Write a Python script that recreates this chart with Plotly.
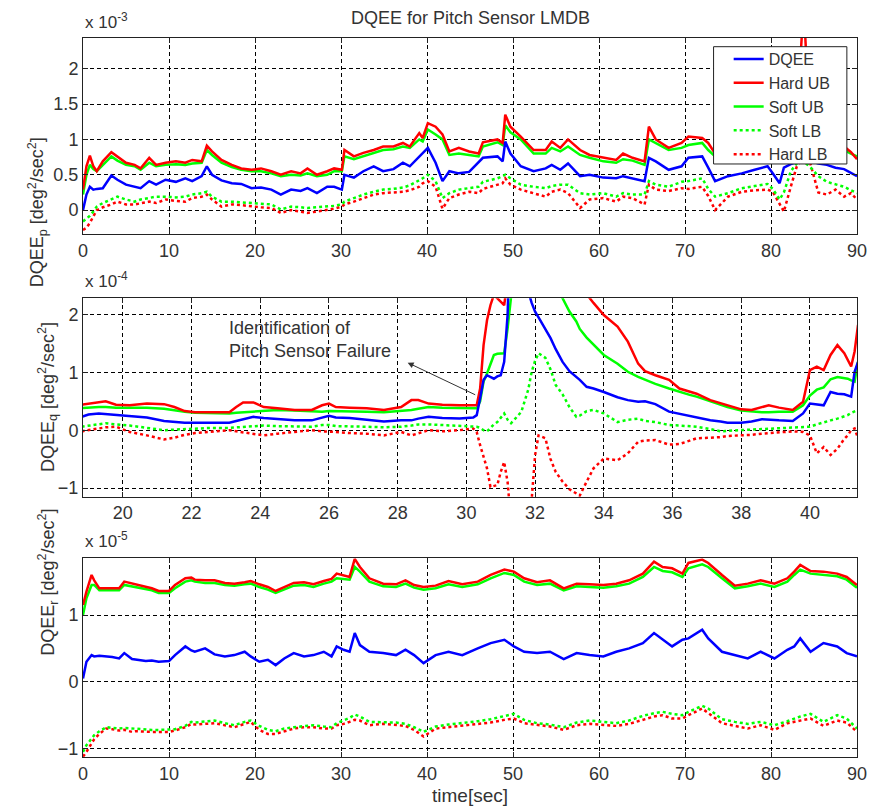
import plotly.graph_objects as go

# ---------------- Top panel: DQEE_p  (values in units of 1e-3 deg^2/sec^2) ----------------
T_P = [0, 0.4, 0.8, 1.2, 1.6, 2.3, 3.3, 4.0, 5.0, 6.0, 6.7, 7.7, 8.5, 9.6, 10.8,
       11.9, 12.7, 13.8, 14.4, 15.0, 16.1, 17.3, 18.4, 19.6, 20.7, 21.9, 23.0, 24.2, 25.3, 26.1,
       27.2, 28.4, 29.2, 30.1, 30.4, 31.5, 32.6, 33.8, 34.9, 36.1, 37.2, 38.0, 39.1, 39.5, 40.1,
       41.0, 41.8, 42.6, 43.7, 44.9, 46.0, 46.5, 48.2, 48.8, 49.1, 49.7, 50.9, 52.4, 53.8, 54.5,
       55.5, 56.4, 57.8, 58.9, 60.5, 62.0, 62.8, 63.9, 65.3, 65.8, 66.6, 68.1, 69.6, 70.4, 72.0,
       72.7, 73.5, 75.0, 76.6, 78.1, 79.6, 80.2, 81.0, 81.5, 82.3, 83.0, 83.8, 84.5, 85.5, 86.5,
       87.5, 88.5, 89.3, 90.0]
P_DQEE = [0.0, 0.22, 0.33, 0.29, 0.30, 0.31, 0.49, 0.43, 0.36, 0.33, 0.31, 0.41, 0.36, 0.43, 0.40,
          0.45, 0.41, 0.48, 0.62, 0.50, 0.42, 0.38, 0.37, 0.31, 0.32, 0.29, 0.22, 0.29, 0.27, 0.31,
          0.24, 0.33, 0.33, 0.29, 0.50, 0.46, 0.55, 0.62, 0.55, 0.58, 0.67, 0.62, 0.76, 0.80, 0.88,
          0.67, 0.41, 0.55, 0.52, 0.54, 0.67, 0.74, 0.76, 0.69, 0.97, 0.80, 0.62, 0.55, 0.59, 0.64,
          0.57, 0.66, 0.48, 0.50, 0.46, 0.45, 0.48, 0.45, 0.41, 0.74, 0.69, 0.57, 0.62, 0.74, 0.76,
          0.60, 0.41, 0.48, 0.52, 0.57, 0.62, 0.52, 0.38, 0.60, 0.65, 0.68, 0.72, 0.70, 0.66, 0.64,
          0.60, 0.58, 0.52, 0.48]
P_HARD_UB = [0.29, 0.62, 0.77, 0.62, 0.55, 0.69, 0.82, 0.76, 0.67, 0.64, 0.59, 0.74, 0.64, 0.67, 0.69,
             0.67, 0.71, 0.69, 0.91, 0.83, 0.71, 0.64, 0.59, 0.57, 0.59, 0.55, 0.50, 0.55, 0.52, 0.59,
             0.50, 0.55, 0.59, 0.57, 0.85, 0.76, 0.81, 0.85, 0.90, 0.90, 0.95, 0.90, 1.09, 1.02, 1.23,
             1.18, 1.07, 0.83, 0.88, 0.83, 0.80, 0.96, 1.00, 0.95, 1.35, 1.18, 1.04, 0.85, 0.85, 0.97,
             0.88, 1.00, 0.85, 0.78, 0.74, 0.71, 0.80, 0.74, 0.69, 1.18, 1.00, 0.88, 0.95, 1.04, 1.02,
             0.95, 0.80, 0.85, 0.88, 0.92, 0.95, 0.85, 0.80, 0.95, 1.10, 1.30, 2.90, 1.20, 1.00, 0.95,
             0.92, 0.90, 0.82, 0.72]
P_SOFT_UB = [0.22, 0.50, 0.64, 0.58, 0.55, 0.64, 0.76, 0.70, 0.64, 0.62, 0.57, 0.67, 0.62, 0.64, 0.65,
             0.64, 0.66, 0.67, 0.85, 0.78, 0.67, 0.61, 0.57, 0.55, 0.55, 0.52, 0.48, 0.50, 0.49, 0.52,
             0.48, 0.50, 0.55, 0.55, 0.76, 0.72, 0.76, 0.80, 0.85, 0.86, 0.90, 0.88, 1.00, 0.97, 1.14,
             1.07, 1.00, 0.78, 0.80, 0.78, 0.76, 0.90, 0.96, 0.92, 1.20, 1.10, 1.00, 0.80, 0.80, 0.88,
             0.83, 0.90, 0.78, 0.74, 0.69, 0.67, 0.72, 0.70, 0.64, 1.00, 0.95, 0.85, 0.88, 0.92, 0.95,
             0.85, 0.76, 0.80, 0.82, 0.85, 0.88, 0.80, 0.76, 0.88, 0.95, 1.00, 1.10, 0.95, 0.90, 0.88,
             0.86, 0.85, 0.80, 0.76]
P_SOFT_LB = [-0.16, -0.12, -0.08, -0.02, 0.05, 0.10, 0.15, 0.19, 0.15, 0.12, 0.15, 0.17, 0.19, 0.19, 0.18,
             0.19, 0.22, 0.24, 0.26, 0.19, 0.12, 0.12, 0.11, 0.10, 0.09, 0.08, 0.01, 0.05, 0.04, 0.03,
             0.04, 0.05, 0.06, 0.08, 0.12, 0.17, 0.22, 0.26, 0.29, 0.30, 0.32, 0.35, 0.42, 0.45, 0.50,
             0.41, 0.17, 0.24, 0.29, 0.31, 0.33, 0.40, 0.45, 0.48, 0.50, 0.45, 0.36, 0.33, 0.31, 0.34,
             0.36, 0.36, 0.24, 0.22, 0.24, 0.19, 0.24, 0.22, 0.22, 0.41, 0.36, 0.33, 0.40, 0.41, 0.45,
             0.30, 0.19, 0.24, 0.31, 0.34, 0.37, 0.30, 0.15, 0.25, 0.55, 0.66, 0.68, 0.62, 0.48, 0.40,
             0.36, 0.33, 0.28, 0.24]
P_HARD_LB = [-0.28, -0.25, -0.18, -0.08, 0.0, 0.04, 0.08, 0.12, 0.08, 0.08, 0.10, 0.12, 0.10, 0.15, 0.13,
             0.12, 0.17, 0.19, 0.22, 0.15, 0.05, 0.08, 0.07, 0.05, 0.04, 0.03, -0.04, 0.0, -0.02, -0.04,
             -0.02, 0.0, 0.02, 0.05, 0.08, 0.12, 0.17, 0.22, 0.24, 0.25, 0.26, 0.28, 0.33, 0.38, 0.41,
             0.33, 0.02, 0.17, 0.22, 0.26, 0.24, 0.30, 0.36, 0.38, 0.45, 0.36, 0.29, 0.24, 0.19, 0.26,
             0.29, 0.24, 0.03, 0.15, 0.17, 0.12, 0.19, 0.17, 0.08, 0.36, 0.29, 0.27, 0.31, 0.30, 0.33,
             0.20, 0.0, 0.19, 0.26, 0.28, 0.29, 0.26, 0.08, -0.02, 0.33, 0.62, 0.76, 0.69, 0.25, 0.22,
             0.29, 0.19, 0.24, 0.15]

# ---------------- Middle panel: DQEE_q  (values in units of 1e-4) ----------------
T_Q = [18.8, 19.0, 19.3, 19.5, 19.8, 20.2, 20.7, 21.2, 21.5, 21.8, 22.1, 22.6, 23.1, 23.3, 23.5,
       23.8, 24.1, 24.5, 25.0, 25.5, 25.8, 26.0, 26.2, 26.6, 27.1, 27.6, 28.1, 28.4, 28.6, 28.9,
       29.3, 29.8, 30.2, 30.3, 30.4, 30.5, 30.6, 30.7, 30.8, 30.9, 31.0, 31.1, 31.2, 31.25, 31.3,
       31.5, 31.6, 31.8, 31.9, 32.0, 32.1, 32.3, 32.45, 32.6, 32.8, 33.0, 33.2, 33.3, 33.5, 33.7,
       34.0, 34.4, 34.7, 35.0, 35.2, 35.5, 35.9, 36.2, 36.5, 36.7, 37.1, 37.4, 37.6, 38.0, 38.3,
       38.6, 38.8, 39.1, 39.5, 39.8, 40.0, 40.2, 40.4, 40.6, 40.8, 41.0, 41.1, 41.2, 41.3, 41.4]
Q_DQEE = [0.23, 0.27, 0.29, 0.28, 0.27, 0.25, 0.22, 0.16, 0.14, 0.13, 0.13, 0.13, 0.13, 0.16, 0.19,
          0.23, 0.21, 0.19, 0.17, 0.17, 0.22, 0.25, 0.22, 0.21, 0.18, 0.15, 0.17, 0.17, 0.20, 0.23,
          0.21, 0.20, 0.22, 0.26, 0.55, 0.87, 0.95, 0.92, 0.89, 0.93, 0.95, 1.18, 2.0, 3.0, 4.0,
          5.0, 4.0, 2.4, 2.2, 2.05, 1.95, 1.75, 1.59, 1.40, 1.18, 1.02, 0.92, 0.87, 0.75, 0.72,
          0.66, 0.57, 0.52, 0.49, 0.50, 0.45, 0.32, 0.28, 0.25, 0.22, 0.17, 0.15, 0.13, 0.13, 0.15,
          0.19, 0.18, 0.17, 0.16, 0.29, 0.46, 0.45, 0.43, 0.66, 0.63, 0.62, 0.60, 0.58, 1.01, 1.18]
Q_HARD_UB = [0.44, 0.46, 0.49, 0.50, 0.44, 0.43, 0.46, 0.45, 0.40, 0.33, 0.31, 0.31, 0.31, 0.40, 0.48,
             0.48, 0.40, 0.38, 0.35, 0.35, 0.43, 0.46, 0.40, 0.39, 0.38, 0.35, 0.40, 0.52, 0.52, 0.46,
             0.44, 0.43, 0.44, 0.43, 0.72, 1.47, 1.90, 2.16, 2.34, 2.28, 2.22, 2.16, 2.6, 3.5, 4.5,
             5.5, 6.0, 6.0, 6.0, 6.0, 6.0, 5.5, 5.0, 4.5, 4.0, 3.3, 2.9, 2.7, 2.35, 2.2,
             1.99, 1.79, 1.53, 1.15, 1.02, 0.95, 0.87, 0.72, 0.67, 0.63, 0.52, 0.47, 0.43, 0.36, 0.35,
             0.40, 0.43, 0.39, 0.35, 0.49, 1.04, 1.10, 1.04, 1.30, 1.47, 1.33, 1.20, 1.10, 1.36, 1.82]
Q_SOFT_UB = [0.38, 0.39, 0.40, 0.40, 0.39, 0.39, 0.39, 0.37, 0.34, 0.32, 0.30, 0.29, 0.29, 0.30, 0.31,
             0.32, 0.34, 0.35, 0.34, 0.32, 0.32, 0.33, 0.33, 0.33, 0.32, 0.31, 0.33, 0.35, 0.37, 0.40,
             0.39, 0.38, 0.38, 0.38, 0.50, 0.84, 0.98, 1.15, 1.30, 1.32, 1.33, 1.33, 1.76, 2.1, 2.5,
             4.0, 4.5, 5.0, 5.0, 5.0, 4.5, 3.8, 3.2, 2.7, 2.28, 2.05, 1.88, 1.75, 1.60, 1.48,
             1.30, 1.15, 1.01, 0.92, 0.87, 0.80, 0.72, 0.66, 0.61, 0.58, 0.50, 0.45, 0.40, 0.34, 0.32,
             0.31, 0.31, 0.32, 0.32, 0.43, 0.60, 0.70, 0.74, 0.88, 0.92, 0.90, 0.89, 0.86, 0.84, 1.18]
Q_SOFT_LB = [0.06, 0.08, 0.10, 0.12, 0.10, 0.08, 0.04, 0.0, 0.01, 0.02, 0.03, 0.04, 0.04, 0.05, 0.06,
             0.07, 0.08, 0.07, 0.06, 0.06, 0.09, 0.09, 0.07, 0.06, 0.06, 0.05, 0.06, 0.08, 0.10, 0.10,
             0.09, 0.08, 0.07, 0.06, 0.04, 0.0, -0.02, 0.04, 0.10, 0.14, 0.22, 0.29, 0.18, 0.14, 0.12,
             0.25, 0.32, 0.70, 1.01, 1.20, 1.33, 1.25, 1.05, 0.78, 0.62, 0.40, 0.23, 0.25, 0.33, 0.35,
             0.29, 0.14, 0.18, 0.20, 0.16, 0.14, 0.09, 0.08, 0.07, 0.06, 0.02, -0.02, -0.01, 0.0, 0.01,
             0.02, 0.03, 0.03, 0.04, 0.05, 0.06, 0.10, 0.14, 0.17, 0.20, 0.24, 0.26, 0.30, 0.33, 0.35]
Q_HARD_LB = [-0.02, 0.0, 0.03, 0.05, 0.06, -0.03, -0.09, -0.16, -0.13, -0.08, -0.05, -0.02, 0.0, -0.02, -0.04,
             -0.07, -0.09, -0.06, -0.03, 0.0, -0.02, -0.02, -0.03, -0.05, -0.06, -0.09, -0.03, -0.09, -0.05, 0.0,
             -0.02, 0.0, 0.03, -0.03, -0.26, -0.45, -0.66, -0.98, -0.97, -0.95, -0.72, -0.55, -0.90, -1.3, -1.6,
             -2.0, -2.0, -1.8, -1.2, -0.43, -0.09, -0.14, -0.50, -0.72, -0.89, -1.02, -1.10, -1.13, -0.89, -0.66,
             -0.49, -0.52, -0.40, -0.20, -0.18, -0.17, -0.25, -0.24, -0.18, -0.14, -0.13, -0.12, -0.10, -0.09, -0.08,
             -0.06, -0.05, -0.03, -0.02, -0.03, -0.09, -0.40, -0.29, -0.43, -0.32, -0.15, -0.09, 0.0, 0.03, -0.14]

# ---------------- Bottom panel: DQEE_r  (values in units of 1e-5) ----------------
T_R = [0, 0.4, 1.0, 1.3, 1.9, 2.7, 3.4, 4.2, 4.8, 5.7, 6.1, 7.3, 8.0, 8.8, 10.0,
       10.7, 11.9, 12.6, 13.0, 14.2, 15.3, 16.5, 17.6, 18.8, 19.5, 20.5, 21.5, 22.4, 23.4, 24.5,
       25.7, 26.8, 28.0, 28.9, 29.5, 30.3, 31.0, 31.6, 32.2, 33.3, 34.9, 36.4, 37.5, 38.5, 39.6,
       41.0, 42.5, 44.1, 45.9, 47.4, 49.0, 50.1, 51.3, 52.8, 54.3, 55.9, 57.4, 58.9, 60.5, 62.0,
       63.5, 65.1, 66.4, 67.4, 68.5, 69.7, 70.4, 72.0, 72.7, 74.3, 75.8, 77.3, 78.8, 80.4, 81.9,
       82.7, 83.4, 84.6, 86.1, 87.7, 88.8, 90.0]
R_DQEE = [0.05, 0.30, 0.40, 0.38, 0.39, 0.38, 0.37, 0.35, 0.43, 0.34, 0.33, 0.31, 0.32, 0.30, 0.31,
          0.40, 0.53, 0.47, 0.45, 0.50, 0.41, 0.38, 0.40, 0.45, 0.38, 0.30, 0.33, 0.25, 0.35, 0.43,
          0.38, 0.40, 0.45, 0.38, 0.53, 0.48, 0.45, 0.73, 0.55, 0.45, 0.43, 0.40, 0.48, 0.40, 0.28,
          0.40, 0.45, 0.40, 0.50, 0.58, 0.63, 0.53, 0.45, 0.43, 0.45, 0.34, 0.43, 0.40, 0.38, 0.45,
          0.50, 0.58, 0.73, 0.63, 0.53, 0.63, 0.65, 0.78, 0.65, 0.45, 0.40, 0.35, 0.45, 0.35, 0.48,
          0.53, 0.65, 0.45, 0.58, 0.53, 0.43, 0.38]
R_HARD_UB = [1.15, 1.35, 1.60, 1.52, 1.40, 1.40, 1.40, 1.40, 1.50, 1.47, 1.46, 1.42, 1.40, 1.36, 1.36,
             1.45, 1.55, 1.56, 1.53, 1.52, 1.52, 1.48, 1.47, 1.49, 1.51, 1.46, 1.42, 1.36, 1.42, 1.48,
             1.49, 1.46, 1.51, 1.54, 1.62, 1.59, 1.57, 1.84, 1.72, 1.55, 1.47, 1.46, 1.52, 1.45, 1.42,
             1.44, 1.51, 1.46, 1.50, 1.60, 1.68, 1.65, 1.55, 1.49, 1.52, 1.40, 1.47, 1.46, 1.45, 1.47,
             1.52, 1.62, 1.80, 1.72, 1.70, 1.62, 1.78, 1.83, 1.78, 1.60, 1.44, 1.47, 1.52, 1.47, 1.55,
             1.65, 1.75, 1.66, 1.65, 1.62, 1.57, 1.45]
R_SOFT_UB = [1.00, 1.25, 1.45, 1.45, 1.37, 1.37, 1.37, 1.37, 1.45, 1.43, 1.42, 1.39, 1.37, 1.33, 1.33,
             1.40, 1.50, 1.52, 1.50, 1.48, 1.48, 1.45, 1.44, 1.46, 1.47, 1.42, 1.38, 1.33, 1.38, 1.44,
             1.45, 1.42, 1.47, 1.50, 1.55, 1.54, 1.53, 1.72, 1.65, 1.50, 1.43, 1.42, 1.47, 1.41, 1.38,
             1.40, 1.46, 1.42, 1.46, 1.55, 1.63, 1.60, 1.50, 1.45, 1.47, 1.37, 1.43, 1.42, 1.41, 1.43,
             1.47, 1.57, 1.72, 1.66, 1.64, 1.57, 1.70, 1.76, 1.72, 1.55, 1.40, 1.43, 1.47, 1.42, 1.50,
             1.60, 1.68, 1.62, 1.60, 1.58, 1.53, 1.41]
R_SOFT_LB = [-1.05, -0.95, -0.85, -0.80, -0.74, -0.68, -0.69, -0.70, -0.69, -0.70, -0.70, -0.71, -0.72, -0.72, -0.72,
             -0.71, -0.66, -0.60, -0.61, -0.59, -0.58, -0.62, -0.65, -0.60, -0.58, -0.66, -0.72, -0.74, -0.70, -0.68,
             -0.66, -0.65, -0.67, -0.68, -0.62, -0.58, -0.54, -0.49, -0.52, -0.60, -0.60, -0.61, -0.63, -0.68, -0.75,
             -0.67, -0.64, -0.62, -0.59, -0.56, -0.51, -0.48, -0.57, -0.62, -0.64, -0.68, -0.61, -0.58, -0.60, -0.62,
             -0.58, -0.51, -0.47, -0.45, -0.48, -0.50, -0.45, -0.36, -0.40, -0.56, -0.60, -0.63, -0.60, -0.65, -0.59,
             -0.55, -0.52, -0.48, -0.60, -0.50, -0.55, -0.70]
R_HARD_LB = [-1.12, -1.05, -0.92, -0.86, -0.78, -0.70, -0.71, -0.73, -0.72, -0.75, -0.74, -0.75, -0.75, -0.75, -0.75,
             -0.73, -0.68, -0.63, -0.64, -0.63, -0.62, -0.65, -0.68, -0.63, -0.60, -0.72, -0.78, -0.78, -0.74, -0.70,
             -0.68, -0.68, -0.70, -0.70, -0.65, -0.63, -0.60, -0.57, -0.58, -0.65, -0.63, -0.65, -0.66, -0.72, -0.82,
             -0.70, -0.68, -0.66, -0.63, -0.61, -0.57, -0.55, -0.62, -0.65, -0.67, -0.72, -0.65, -0.63, -0.65, -0.66,
             -0.63, -0.57, -0.52, -0.50, -0.55, -0.55, -0.50, -0.40, -0.47, -0.62, -0.66, -0.70, -0.65, -0.72, -0.62,
             -0.60, -0.58, -0.55, -0.66, -0.58, -0.61, -0.75]

SERIES_NAMES = ["DQEE", "Hard UB", "Soft UB", "Soft LB", "Hard LB"]
COLORS = ["#0000FF", "#FF0000", "#00FF00", "#00FF00", "#FF0000"]
DASHES = ["solid", "solid", "solid", "dot", "dot"]

P_TICKS = [0, 0.5, 1, 1.5, 2]
P_TICKTEXT = ["0", "0.5", "1", "1.5", "2"]
Q_TICKS = [-1, 0, 1, 2]
R_TICKS = [-1, 0, 1]
X_TICKS_FULL = list(range(0, 91, 10))
X_TICKS_ZOOM = list(range(20, 41, 2))

FONT = "Liberation Sans, Arial, sans-serif"
TXT = "#333333"

fig = go.Figure()

panels = [
    (T_P, [P_DQEE, P_HARD_UB, P_SOFT_UB, P_SOFT_LB, P_HARD_LB], "x", "y", True),
    (T_Q, [Q_DQEE, Q_HARD_UB, Q_SOFT_UB, Q_SOFT_LB, Q_HARD_LB], "x2", "y2", False),
    (T_R, [R_DQEE, R_HARD_UB, R_SOFT_UB, R_SOFT_LB, R_HARD_LB], "x3", "y3", False),
]
for t, series, xa, ya, show in panels:
    order = [4, 3, 2, 1, 0]  # bounds first, DQEE on top
    for i in order:
        fig.add_trace(go.Scatter(
            x=t, y=series[i], mode="lines", name=SERIES_NAMES[i],
            xaxis=xa, yaxis=ya, showlegend=show, legendrank=i + 1,
            line=dict(color=COLORS[i], width=2.5, dash=DASHES[i]),
        ))

axis_common = dict(
    showline=True, linecolor="#222222", linewidth=1, mirror="ticks",
    ticks="inside", ticklen=5, tickcolor="#222222",
    showgrid=True, gridcolor="#000000", gridwidth=1, griddash="4px,3px",
    zeroline=False,
    tickfont=dict(family=FONT, size=18, color=TXT),
)

fig.update_layout(
    width=878, height=811,
    margin=dict(l=83, r=11, t=38, b=54),
    paper_bgcolor="white", plot_bgcolor="white",
    font=dict(family=FONT, color=TXT),
    xaxis=dict(domain=[0, 1], range=[0, 90], tickvals=X_TICKS_FULL, anchor="y", **axis_common),
    yaxis=dict(domain=[0.7274, 1.0], range=[-0.338, 2.435], tickvals=P_TICKS, ticktext=P_TICKTEXT,
               anchor="x", **axis_common),
    xaxis2=dict(domain=[0, 1], range=[18.84, 41.37], tickvals=X_TICKS_ZOOM, anchor="y2", **axis_common),
    yaxis2=dict(domain=[0.362, 0.638], range=[-1.15, 2.28], tickvals=Q_TICKS, anchor="x2", **axis_common),
    xaxis3=dict(domain=[0, 1], range=[0, 90], tickvals=X_TICKS_FULL, anchor="y3", **axis_common),
    yaxis3=dict(domain=[0.0, 0.2764], range=[-1.126, 1.85], tickvals=R_TICKS, anchor="x3", **axis_common),
    legend=dict(
        x=0.8342, y=0.9944, xanchor="left", yanchor="top",
        bgcolor="rgba(0,0,0,0)", borderwidth=0,
        font=dict(family=FONT, size=16, color=TXT),
        traceorder="normal",
    ),
    showlegend=True,
    shapes=[
        # legend box (white, black border) drawn over the curves
        dict(type="rect", xref="paper", yref="paper", x0=0.8147, x1=0.9869, y0=0.8248, y1=0.9879,
             fillcolor="white", line=dict(color="#222222", width=1), layer="above"),
    ],
)

annotations = [
    dict(text="DQEE for Pitch Sensor LMDB", xref="paper", yref="paper", x=0.5, y=1.0,
         yanchor="middle", yshift=20, showarrow=False, font=dict(family=FONT, size=18, color=TXT)),
    dict(text="time[sec]", xref="paper", yref="paper", x=0.5, y=0, yshift=-38,
         showarrow=False, yanchor="middle", font=dict(family=FONT, size=19, color=TXT)),
    dict(text="x 10<sup>-3</sup>", xref="paper", yref="paper", x=0, y=1.0, xanchor="left",
         yanchor="bottom", yshift=4, showarrow=False, font=dict(family=FONT, size=17, color=TXT)),
    dict(text="x 10<sup>-4</sup>", xref="paper", yref="paper", x=0, y=0.638, xanchor="left",
         yanchor="bottom", yshift=5, showarrow=False, font=dict(family=FONT, size=17, color=TXT)),
    dict(text="x 10<sup>-5</sup>", xref="paper", yref="paper", x=0, y=0.2764, xanchor="left",
         yanchor="bottom", yshift=5, showarrow=False, font=dict(family=FONT, size=17, color=TXT)),
    dict(text="DQEE<sub>p</sub> [deg<sup>2</sup>/sec<sup>2</sup>]", xref="paper", yref="paper",
         x=0, xshift=-60, y=0.864, textangle=-90, showarrow=False,
         font=dict(family=FONT, size=18, color=TXT)),
    dict(text="DQEE<sub>q</sub> [deg<sup>2</sup>/sec<sup>2</sup>]", xref="paper", yref="paper",
         x=0, xshift=-50, y=0.5, textangle=-90, showarrow=False,
         font=dict(family=FONT, size=18, color=TXT)),
    dict(text="DQEE<sub>r</sub> [deg<sup>2</sup>/sec<sup>2</sup>]", xref="paper", yref="paper",
         x=0, xshift=-50, y=0.138, textangle=-90, showarrow=False,
         font=dict(family=FONT, size=18, color=TXT)),
    dict(text="Identification of<br>Pitch Sensor Failure", xref="x2", yref="y2",
         x=23.04, y=1.56, xanchor="left", yanchor="middle", align="left", showarrow=False,
         font=dict(family=FONT, size=18, color=TXT)),
    dict(text="", xref="x2", yref="y2", x=28.29, y=1.167, axref="x2", ayref="y2",
         ax=30.3, ay=0.60, showarrow=True, arrowhead=2, arrowsize=1.2, arrowwidth=1,
         arrowcolor="#333333"),
]
fig.update_layout(annotations=annotations)

fig.write_html("out.html")
